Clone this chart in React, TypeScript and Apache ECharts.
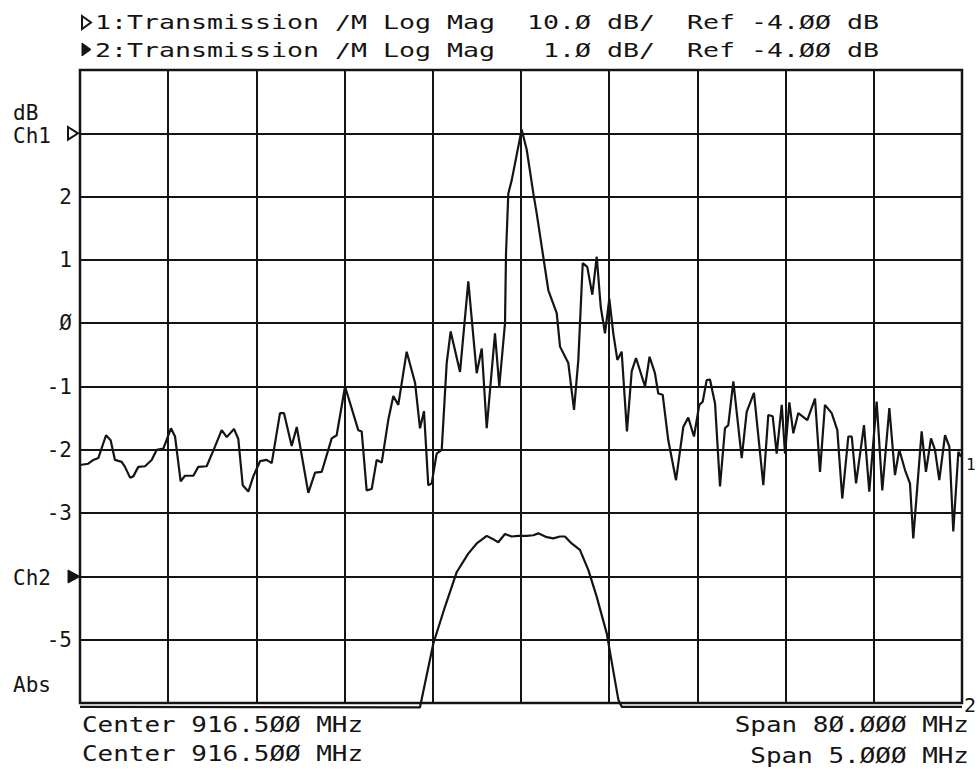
import React, { useEffect, useRef } from "react";
import * as echarts from "echarts";

// Channel 1: wideband transmission, 876.5–956.5 MHz (Center 916.5, Span 80), dB
const ch1Points: [number, number][] = [
  [876.50, -56.4], [877.25, -56.2], [877.71, -55.6], [878.16, -55.3], [878.86, -51.7], [879.28, -52.5],
  [879.67, -55.6], [880.28, -55.9], [880.58, -56.7], [881.04, -58.4], [881.33, -58.2], [881.79, -56.7],
  [882.40, -56.6], [883.00, -55.6], [883.46, -54.0], [884.06, -53.8], [884.75, -50.6], [885.12, -51.9],
  [885.63, -59.0], [886.02, -58.1], [886.78, -58.1], [887.23, -56.7], [887.99, -56.6], [888.74, -53.5],
  [889.35, -50.9], [889.81, -52.0], [890.47, -50.7], [890.86, -52.3], [891.26, -59.6], [891.77, -60.6],
  [892.22, -58.2], [892.83, -55.8], [893.43, -55.6], [893.89, -56.1], [894.64, -48.2], [895.00, -48.2],
  [895.70, -53.4], [896.16, -50.4], [897.21, -60.8], [897.82, -57.6], [898.42, -57.5], [899.33, -52.2],
  [899.78, -51.7], [900.54, -44.0], [901.74, -50.9], [902.05, -51.1], [902.50, -60.4], [902.96, -60.2],
  [903.41, -55.6], [903.87, -56.0], [904.46, -49.3], [904.92, -45.5], [905.37, -46.9], [906.13, -38.5],
  [906.89, -43.4], [907.34, -50.6], [907.70, -47.9], [908.09, -59.6], [908.40, -59.3], [908.85, -54.6],
  [909.31, -54.0], [909.76, -40.3], [910.12, -35.3], [910.97, -41.7], [911.72, -27.4], [912.48, -41.9],
  [912.94, -38.0], [913.39, -50.6], [914.14, -35.6], [914.53, -44.0], [915.05, -34.0], [915.14, -23.0],
  [915.35, -13.5], [915.66, -11.4], [916.56, -3.4], [917.02, -6.6], [917.62, -13.5], [917.92, -16.6],
  [918.52, -23.5], [918.98, -28.8], [919.74, -32.4], [920.04, -37.7], [920.79, -40.3], [921.31, -47.7],
  [921.70, -39.8], [922.10, -24.5], [922.51, -25.1], [922.97, -29.5], [923.37, -23.5], [923.73, -31.4],
  [924.12, -35.6], [924.51, -30.1], [924.87, -35.6], [925.24, -39.8], [925.63, -38.5], [926.11, -51.1],
  [926.54, -41.6], [926.93, -39.5], [927.75, -44.0], [928.16, -39.3], [928.65, -41.9], [928.95, -45.1],
  [929.35, -45.3], [929.86, -52.5], [930.56, -58.8], [931.22, -50.4], [931.67, -48.9], [932.19, -51.9],
  [932.67, -46.9], [932.98, -46.4], [933.34, -43.0], [933.64, -42.9], [934.10, -46.7], [934.55, -59.8],
  [935.00, -50.6], [935.30, -50.1], [935.76, -43.2], [936.52, -55.3], [936.97, -48.0], [937.63, -45.0],
  [938.48, -59.6], [938.93, -48.5], [939.33, -48.7], [939.69, -54.6], [940.15, -46.9], [940.45, -54.6],
  [940.84, -46.5], [941.20, -51.4], [941.65, -48.2], [942.47, -49.3], [943.17, -45.9], [943.62, -57.5],
  [944.07, -46.9], [944.68, -48.2], [945.19, -50.9], [945.64, -61.7], [946.19, -51.9], [946.50, -51.9],
  [946.89, -59.3], [947.61, -50.1], [948.09, -60.6], [948.76, -46.4], [949.27, -60.4], [949.91, -47.4],
  [950.42, -58.0], [950.81, -54.0], [951.33, -57.2], [951.78, -59.3], [952.08, -68.0], [952.84, -51.1],
  [953.23, -57.5], [953.69, -52.2], [954.05, -54.0], [954.44, -58.8], [954.96, -51.7], [955.35, -53.5],
  [955.71, -66.9], [956.17, -54.3], [956.41, -55.1],
];

// Channel 2: passband detail, 914–919 MHz (Center 916.5, Span 5), dB
const ch2Points: [number, number][] = [
  [914.000, -6.06], [915.927, -6.07], [916.003, -5.06], [916.069, -4.48], [916.136, -3.93],
  [916.201, -3.64], [916.249, -3.48], [916.306, -3.36], [916.334, -3.40], [916.371, -3.46],
  [916.409, -3.33], [916.447, -3.37], [916.485, -3.36], [916.532, -3.36], [916.570, -3.35],
  [916.598, -3.32], [916.646, -3.38], [916.683, -3.40], [916.721, -3.37], [916.749, -3.37],
  [916.787, -3.48], [916.834, -3.58], [916.882, -3.90], [916.929, -4.32], [916.986, -4.90],
  [917.052, -5.95], [917.071, -6.06], [919.000, -6.06],
];

// Tick labels shown on the left axis (channel 2 scale, 1 dB/div)
const yTickValues = [2, 1, 0, -1, -2, -3, -5];

const headerLine1 = "1:Transmission /M Log Mag  10.Ø dB/  Ref -4.ØØ dB";
const headerLine2 = "2:Transmission /M Log Mag   1.Ø dB/  Ref -4.ØØ dB";
const footerLeft = ["Center 916.5ØØ MHz", "Center 916.5ØØ MHz"];
const footerRight = ["Span 8Ø.ØØØ MHz", "Span 5.ØØØ MHz"];

const INK = "#141414";
const MONO = "'DejaVu Sans Mono', 'Liberation Mono', monospace";

function txt(text: string, x: number, y: number, size: number, scaleX = 1, align = "left") {
  return {
    type: "text",
    x,
    y,
    scaleX,
    silent: true,
    style: {
      text,
      x: 0,
      y: 0,
      fill: INK,
      font: `${size}px ${MONO}`,
      align,
      verticalAlign: "middle",
      textAlign: align,
      textVerticalAlign: "middle",
    },
  };
}

export default function App() {
  const ref = useRef<HTMLDivElement>(null);
  useEffect(() => {
    document.body.style.margin = "0";
    const chart = echarts.init(ref.current as HTMLDivElement, null, { renderer: "svg" });
    const pitchScale = 16 / (0.602 * 20);
    const footScale = pitchScale * 0.93;
    const option: any = {
      animation: false,
      backgroundColor: "#ffffff",
      grid: {
        left: 80,
        top: 70,
        width: 882,
        height: 633,
        show: true,
        borderColor: INK,
        borderWidth: 2.5,
        containLabel: false,
      },
      xAxis: [
        {
          type: "value",
          min: 914,
          max: 919,
          interval: 0.5,
          axisLine: { show: false },
          axisTick: { show: false },
          axisLabel: { show: false },
          splitLine: { show: true, lineStyle: { color: INK, width: 2 } },
        },
        { type: "value", min: 876.5, max: 956.5, show: false, splitLine: { show: false } },
      ],
      yAxis: [
        {
          type: "value",
          min: -6,
          max: 4,
          interval: 1,
          axisLine: { show: false },
          axisTick: { show: false },
          axisLabel: {
            margin: 8,
            color: INK,
            fontFamily: MONO,
            fontSize: 21,
            formatter: (v: number) =>
              yTickValues.includes(v) ? (v === 0 ? "Ø" : String(v)) : "",
          },
          splitLine: { show: true, lineStyle: { color: INK, width: 2 } },
        },
        { type: "value", min: -94, max: 6, show: false, splitLine: { show: false } },
      ],
      series: [
        {
          name: "Ch1",
          type: "line",
          xAxisIndex: 1,
          yAxisIndex: 1,
          data: ch1Points,
          symbol: "none",
          clip: false,
          lineStyle: { color: INK, width: 2.2 },
          z: 5,
        },
        {
          name: "Ch2",
          type: "line",
          xAxisIndex: 0,
          yAxisIndex: 0,
          data: ch2Points,
          symbol: "none",
          clip: false,
          lineStyle: { color: INK, width: 2.2 },
          z: 5,
        },
      ],
      graphic: {
        elements: [
          // header
          {
            type: "polygon",
            silent: true,
            shape: { points: [[82, 16], [91, 22.5], [82, 29]] },
            style: { fill: "none", stroke: INK, lineWidth: 2 },
          },
          {
            type: "polygon",
            silent: true,
            shape: { points: [[82, 43], [91, 49.5], [82, 56]] },
            style: { fill: INK, stroke: INK, lineWidth: 1 },
          },
          txt(headerLine1, 95, 22, 20, pitchScale),
          txt(headerLine2, 95, 50, 20, pitchScale),
          // left axis annotations
          txt("dB", 13, 113, 21),
          txt("Ch1", 13, 136, 21),
          txt("Ch2", 13, 578, 21),
          txt("Abs", 13, 685, 21),
          {
            type: "polygon",
            silent: true,
            shape: { points: [[68, 127], [78, 133.3], [68, 139.6]] },
            style: { fill: "#fff", stroke: INK, lineWidth: 2 },
          },
          {
            type: "polygon",
            silent: true,
            shape: { points: [[68, 570], [80, 576.5], [68, 583]] },
            style: { fill: INK, stroke: INK, lineWidth: 1 },
          },
          // trace end markers
          txt("1", 966, 464, 16),
          txt("2", 964, 705, 20),
          // footer
          txt(footerLeft[0], 82, 725, 21, footScale),
          txt(footerLeft[1], 82, 754, 21, footScale),
          txt(footerRight[0], 969, 725, 21, footScale, "right"),
          txt(footerRight[1], 969, 756, 21, footScale, "right"),
        ],
      },
    };
    chart.setOption(option);
    return () => chart.dispose();
  }, []);
  return (
    <div
      ref={ref}
      style={{ position: "absolute", left: 0, top: 0, width: 977, height: 770, background: "#fff" }}
    />
  );
}
